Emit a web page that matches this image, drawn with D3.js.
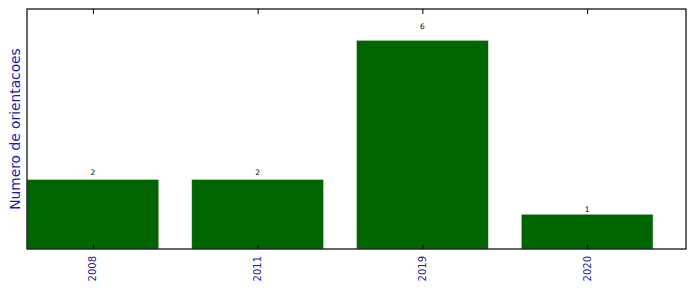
<!DOCTYPE html>
<html>
<head>
<meta charset="utf-8">
<script src="https://cdn.jsdelivr.net/npm/d3@7"></script>
<style>
body { margin: 0; background: #fff; }
</style>
</head>
<body>
<script>
// data
var years = ["2008", "2011", "2019", "2020"];
var counts = [2, 2, 6, 1];

var margin = {top: 9, right: 10, bottom: 43, left: 27},
    width = 696 - margin.left - margin.right,
    height = 292 - margin.top - margin.bottom;

var svg = d3.select("body").append("svg")
    .attr("width", 696)
    .attr("height", 292)
    .style("font-family", "DejaVu Sans");

var g = svg.append("g")
    .attr("transform", "translate(" + margin.left + "," + margin.top + ")");

// bars sit at i .. i+0.8, axis runs 0..4 like matplotlib
var x = d3.scaleLinear().domain([0, years.length]).range([0, width]);
var y = d3.scaleLinear().domain([0, d3.max(counts) * 1.15]).range([height, 0]);

g.selectAll(".bar")
    .data(counts)
    .enter().append("rect")
    .attr("class", "bar")
    .attr("x", (d, i) => x(i))
    .attr("y", d => y(d))
    .attr("width", x(0.8) - x(0))
    .attr("height", d => height - y(d))
    .attr("fill", "#006400")
    .attr("stroke", "#d8e0d8")
    .attr("stroke-width", 0.6);

// value labels, placed at 1.05 * value
g.selectAll(".val")
    .data(counts)
    .enter().append("text")
    .attr("x", (d, i) => x(i + 0.4))
    .attr("y", d => y(d * 1.05) - 0.5)
    .attr("text-anchor", "middle")
    .style("font-size", "7.5px")
    .attr("fill", "#000")
    .text(d => d);

// ticks inside, bottom and top
var tickPos = years.map((d, i) => i + 0.4);
var bottomAxis = g.append("g")
    .attr("transform", "translate(0," + height + ")")
    .call(d3.axisBottom(x).tickValues(tickPos).tickSize(-5).tickFormat(""));
bottomAxis.select(".domain").remove();
bottomAxis.selectAll("line").attr("stroke", "#000");

var topAxis = g.append("g")
    .call(d3.axisTop(x).tickValues(tickPos).tickSize(-5).tickFormat(""));
topAxis.select(".domain").remove();
topAxis.selectAll("line").attr("stroke", "#000");

// tick labels rotated
g.selectAll(".xlab")
    .data(years)
    .enter().append("text")
    .attr("transform", (d, i) => "translate(" + (x(i + 0.4) + 3.5) + "," + (height + 7) + ") rotate(-90)")
    .attr("text-anchor", "end")
    .style("font-size", "10px")
    .attr("fill", "#1a1aa6")
    .text(d => d);

// frame
g.append("rect")
    .attr("x", 0)
    .attr("y", 0)
    .attr("width", width)
    .attr("height", height)
    .attr("fill", "none")
    .attr("stroke", "#000")
    .attr("stroke-width", 1.2);

// y label
svg.append("text")
    .attr("transform", "translate(20," + (margin.top + height / 2) + ") rotate(-90)")
    .attr("text-anchor", "middle")
    .style("font-size", "13.8px")
    .attr("fill", "#1a1aa6")
    .text("Numero de orientacoes");
</script>
</body>
</html>
